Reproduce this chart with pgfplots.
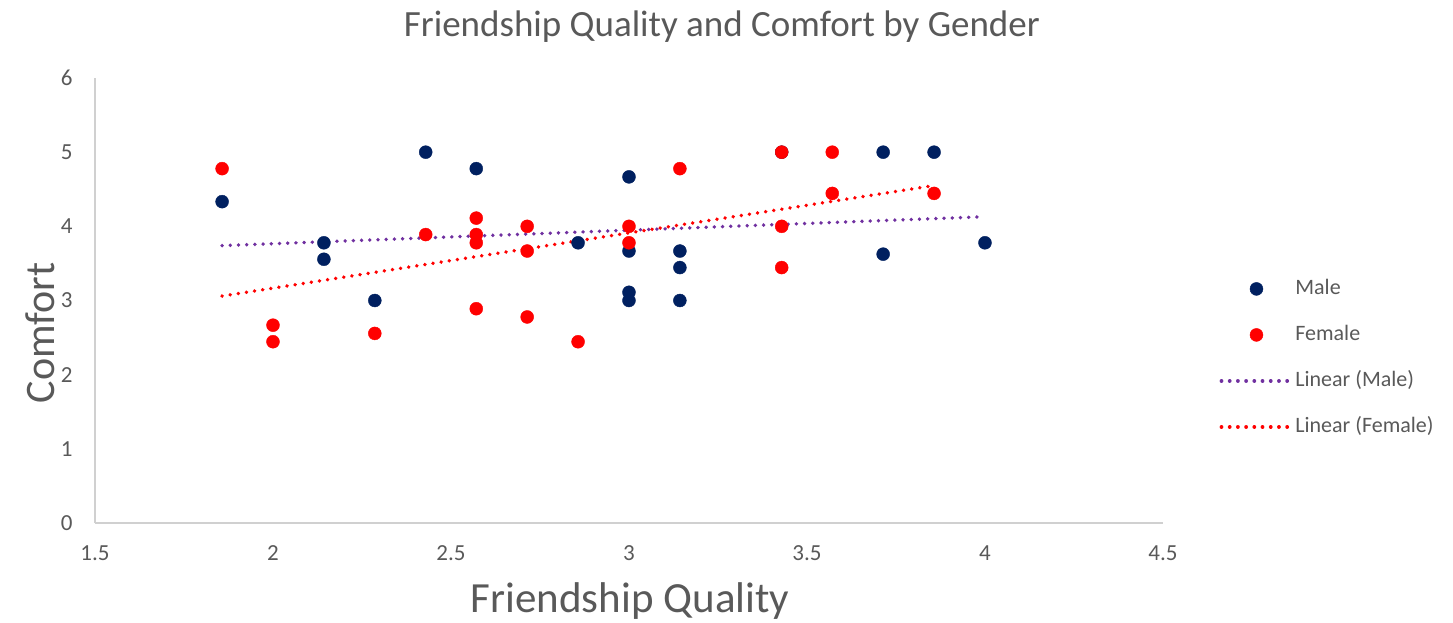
\documentclass[border=0pt]{standalone}
\usepackage{pgfplots}
\pgfplotsset{compat=1.18}
\usepackage{fontspec}
\setmainfont{Carlito}
\definecolor{navy}{HTML}{002060}
\definecolor{txt}{HTML}{595959}
\definecolor{axgray}{HTML}{D0D0D0}
\definecolor{trendm}{HTML}{7030A0}
\pgfplotsset{myleg/.style={legend image code/.code={%
  \draw[mark repeat=2,mark phase=2,##1] plot coordinates {(0pt,0pt)(35pt,0pt)(70pt,0pt)};}}}
\begin{document}
\begin{tikzpicture}
\begin{axis}[scale only axis,width=1068pt,height=445pt,
 at={(0,0)},anchor=south west,
 xmin=1.5,xmax=4.5,ymin=0,ymax=6,
 xtick={1.5,2,...,4.5},ytick={0,1,...,6},
 axis x line*=bottom,axis y line*=left,
 axis line style={axgray,line width=1.3pt,-},
 major tick length=0pt,
 /pgf/number format/assume math mode=true,
 tick label style={font=\fontsize{23}{27}\selectfont,text=txt},
 xticklabel style={anchor=north,yshift=-19pt},
 yticklabel style={anchor=east,xshift=-19pt},
 title={Friendship Quality and Comfort by Gender},
 title style={font=\fontsize{37}{44}\selectfont,text=txt,at={(rel axis cs:0.587,1)},anchor=center,yshift=45pt},
 xlabel={Friendship Quality},
 xlabel style={font=\fontsize{43}{50}\selectfont,text=txt,at={(rel axis cs:0.501,-0.2022)},anchor=base},
 ylabel={Comfort},
 ylabel style={font=\fontsize{42}{50}\selectfont,text=txt,at={(rel axis cs:-0.0515,0.427)},anchor=center},
 legend style={at={(rel axis cs:1.05,0.371)},anchor=west,draw=none,fill=none,
   font=\fontsize{22}{26}\selectfont,text=txt,row sep=21pt,
   nodes={text height=16pt,text depth=5pt,inner sep=2pt}},
 legend cell align=left,
]
\addplot[only marks,mark=*,mark size=6.5pt,navy,mark options={draw=navy,fill=navy},myleg] table {
x y
1.857 4.333
2.143 3.778
2.143 3.556
2.286 3.000
2.429 5.000
2.571 4.778
2.857 3.778
3.000 4.667
3.000 3.667
3.000 3.111
3.000 3.000
3.143 3.667
3.143 3.444
3.143 3.000
3.429 5.000
3.714 5.000
3.714 3.625
3.857 5.000
4.000 3.778
};
\addlegendentry{Male}
\addplot[only marks,mark=*,mark size=6.5pt,red,mark options={draw=red,fill=red},myleg] table {
x y
1.857 4.778
2.000 2.667
2.000 2.444
2.286 2.556
2.429 3.889
2.571 4.111
2.571 3.889
2.571 3.778
2.571 2.889
2.714 4.000
2.714 3.667
2.714 2.778
2.857 2.444
3.000 4.000
3.000 3.778
3.143 4.778
3.429 5.000
3.429 4.000
3.429 3.444
3.571 5.000
3.571 4.444
3.857 4.444
};
\addlegendentry{Female}
\addplot[trendm,line width=3.8pt,line cap=round,dash pattern=on 0.01pt off 8.2pt,mark=none,myleg] coordinates {(1.857,3.74)(4.000,4.13)};
\addlegendentry{Linear (Male)}
\addplot[red,line width=3.8pt,line cap=round,dash pattern=on 0.01pt off 8.2pt,mark=none,myleg] coordinates {(1.857,3.06)(3.857,4.55)};
\addlegendentry{Linear (Female)}
\end{axis}
\pgfresetboundingbox
\path (-95pt,-100pt) rectangle (1358pt,523pt);
\end{tikzpicture}
\end{document}
